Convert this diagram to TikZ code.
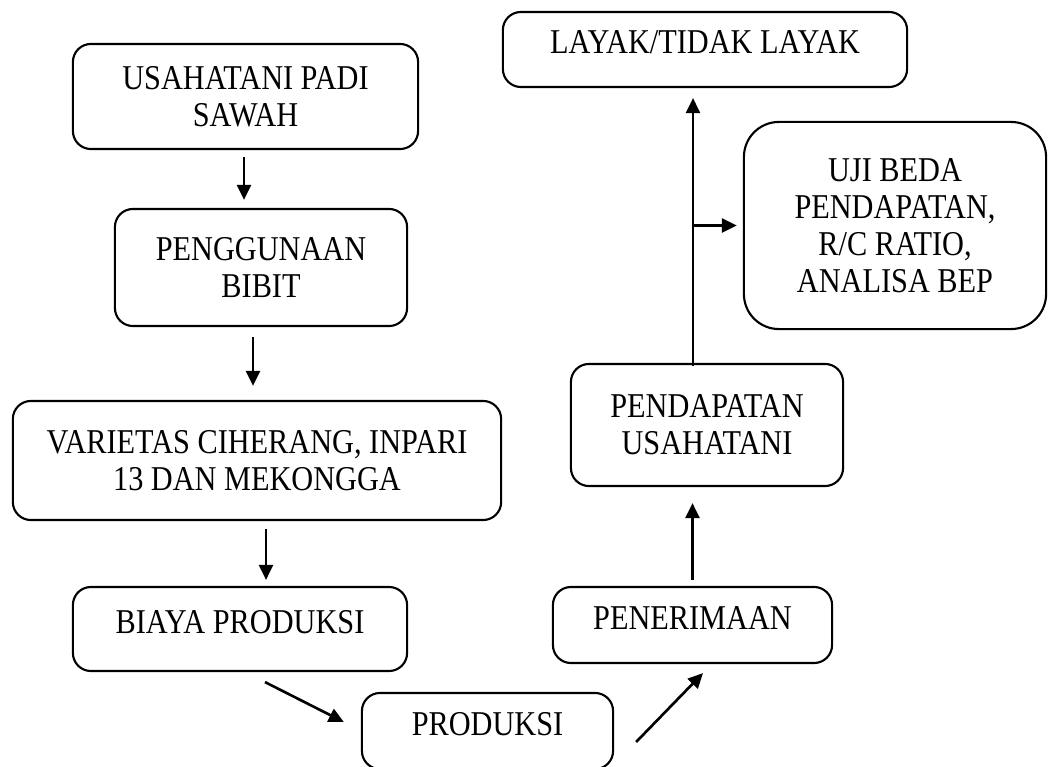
\documentclass[tikz,border=0pt]{standalone}
\usepackage{fontspec}
\setmainfont[FakeStretch=0.87]{Liberation Serif}
\usepackage{tikz}
\usetikzlibrary{shapes,arrows.meta,positioning,calc}

\begin{document}
\begin{tikzpicture}[
        x=0.01cm, y=-0.01cm, font=\fontsize{9.9}{10.5}\selectfont,
        >={Triangle[length=0.15cm,width=0.14cm]},
        box/.style={rectangle, draw, rounded corners=0.18cm, line width=0.6pt, align=center, inner sep=0pt},
        onebox/.style={box, text depth=0.14cm},
        bigbox/.style={box, rounded corners=0.35cm},
        link/.style={->, line width=0.75pt}
    ]
        \useasboundingbox (0,0) rectangle (1048,767);
        \node[box, minimum width=3.45cm, minimum height=1.05cm] (usahatani) at (245.5,96.5) {USAHATANI PADI\\SAWAH};
        \node[box, minimum width=2.92cm, minimum height=1.17cm] (bibit) at (261,267.5) {PENGGUNAAN\\BIBIT};
        \node[box, minimum width=4.88cm, minimum height=1.19cm] (varietas) at (257,460.5) {VARIETAS CIHERANG, INPARI\\13 DAN MEKONGGA};
        \node[onebox, minimum width=3.34cm, minimum height=0.84cm] (biaya) at (240,629) {BIAYA PRODUKSI};
        \node[onebox, minimum width=2.51cm, minimum height=0.76cm] (produksi) at (487.5,731) {PRODUKSI};
        \node[onebox, minimum width=2.79cm, minimum height=0.76cm] (penerimaan) at (692.5,625) {PENERIMAAN};
        \node[box, minimum width=2.72cm, minimum height=1.22cm] (pendapatan) at (707,425) {PENDAPATAN\\USAHATANI};
        \node[onebox, minimum width=4.04cm, minimum height=0.75cm] (layak) at (705,49.5) {LAYAK/TIDAK LAYAK};
        \node[bigbox, minimum width=3.02cm, minimum height=2.07cm] (uji) at (895,225.5) {UJI BEDA\\PENDAPATAN,\\R/C RATIO,\\ANALISA BEP};
        \draw[link] ($(usahatani.south)+(-1.5,7)$) -- ($(usahatani.south |- bibit.north)+(-1.5,-8)$);
        \draw[link] ($(bibit.south)+(-8,10)$) -- ($(bibit.south |- varietas.north)+(-8,-14)$);
        \draw[link] ($(varietas.south)+(9,8)$) -- ($(varietas.south |- biaya.north)+(9,-6)$);
        \draw[link] ($(biaya.south)+(25,10)$) -- ($(produksi.west)+(-17,-9)$);
        \draw[link] ($(produksi.east)+(22,11)$) -- ($(penerimaan.south)+(10.5,9)$);
        \draw[link] ($(penerimaan.north)+(0,-6)$) -- ($(penerimaan.north |- pendapatan.south)+(0,16)$);
        \draw[link] ($(pendapatan.north)+(-14,3)$) -- ($(layak.south)+(-12,10)$);
        \draw[link] ($(uji.west)+(-51,0)$) -- ($(uji.west)+(-6,0)$);
    \end{tikzpicture}
\end{document}
